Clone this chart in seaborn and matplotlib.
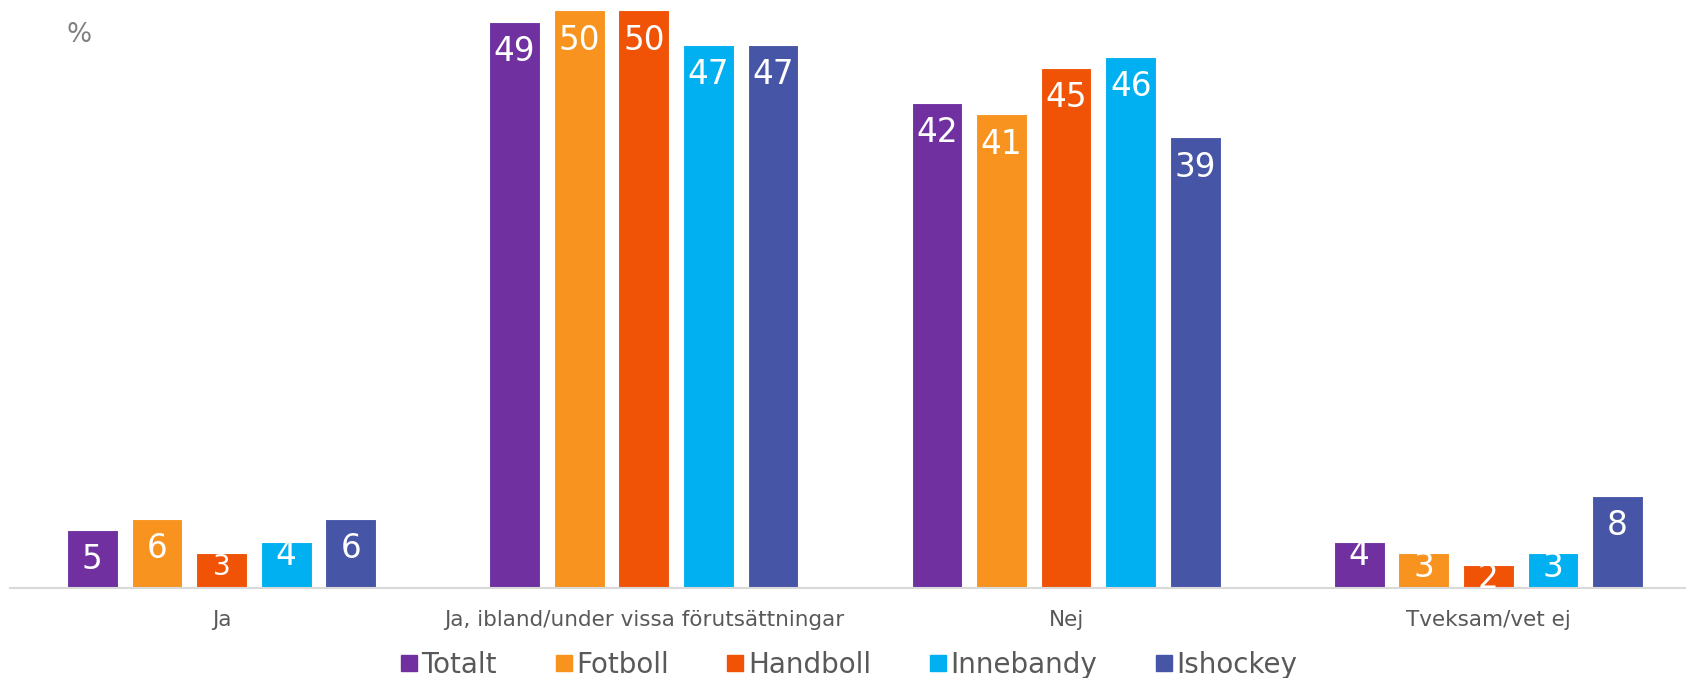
import pandas as pd
import seaborn as sns
import matplotlib.pyplot as plt

kategorier = ["Ja", "Ja, ibland/under vissa förutsättningar", "Nej", "Tveksam/vet ej"]
serier = ["Totalt", "Fotboll", "Handboll", "Innebandy", "Ishockey"]
totalt = [5, 49, 42, 4]
fotboll = [6, 50, 41, 3]
handboll = [3, 50, 45, 2]
innebandy = [4, 47, 46, 3]
ishockey = [6, 47, 39, 8]
farger = ["#7030A0", "#F7931E", "#F05206", "#00B0F0", "#4755A6"]

rows = []
for namn, vals in zip(serier, [totalt, fotboll, handboll, innebandy, ishockey]):
    for kat, v in zip(kategorier, vals):
        rows.append({"Kategori": kat, "Serie": namn, "Procent": v})
df = pd.DataFrame(rows)

sns.set_style("white")
plt.rcParams['font.family'] = ['DejaVu Sans']

fig = plt.figure(figsize=(16.86, 6.78), dpi=100)
ax = fig.add_axes([10.4 / 1686, 1 - 588 / 678, 1 - 10.4 / 1686, 588 / 678])

sns.barplot(data=df, x="Kategori", y="Procent", hue="Serie", order=kategorier,
            hue_order=serier, palette=farger, width=0.765, gap=0.215,
            saturation=1, edgecolor="white", linewidth=0.8, ax=ax, legend=False)

ax.set_xlim(-0.5, 3.468)
ax.set_ylim(0, 50.9)
ax.set_yticks([])
ax.set_xlabel("")
ax.set_ylabel("")
for s in ["top", "left", "right"]:
    ax.spines[s].set_visible(False)
ax.spines["bottom"].set_color("#D9D9D9")
ax.spines["bottom"].set_linewidth(1.5)
ax.tick_params(axis="x", length=0, pad=16, labelsize=15.5, labelcolor="#595959")

# etiketter inne i staplarna, klippta mot stapeln
for cont in ax.containers:
    for bar in cont:
        h = bar.get_height()
        x = bar.get_x() + bar.get_width() / 2
        if h >= 5:
            dy, storlek = -9.5, 23.5
        elif h == 3 and bar.get_x() < 0.5:
            dy, storlek = 0, 20
        else:
            dy, storlek = 2, 23.5
        t = ax.annotate(f"{h:.0f}", (x, h), xytext=(0, dy), textcoords="offset points",
                        ha="center", va="top", color="white", fontsize=storlek)
        t.set_clip_path(bar)

fig.text(66 / 1686, 1 - 35 / 678, "%", fontsize=19, color="#808080",
         ha="left", va="center")

handles = [plt.Line2D([], [], marker="s", linestyle="", color=c, markersize=11) for c in farger]
fig.legend(handles, serier, loc="center", bbox_to_anchor=(0.503, 1 - 665 / 678), ncol=5,
           frameon=False, fontsize=20, labelcolor="#595959", handletextpad=0.1,
           columnspacing=2.05, handlelength=0.7)

fig.savefig("out.png", dpi=100)
